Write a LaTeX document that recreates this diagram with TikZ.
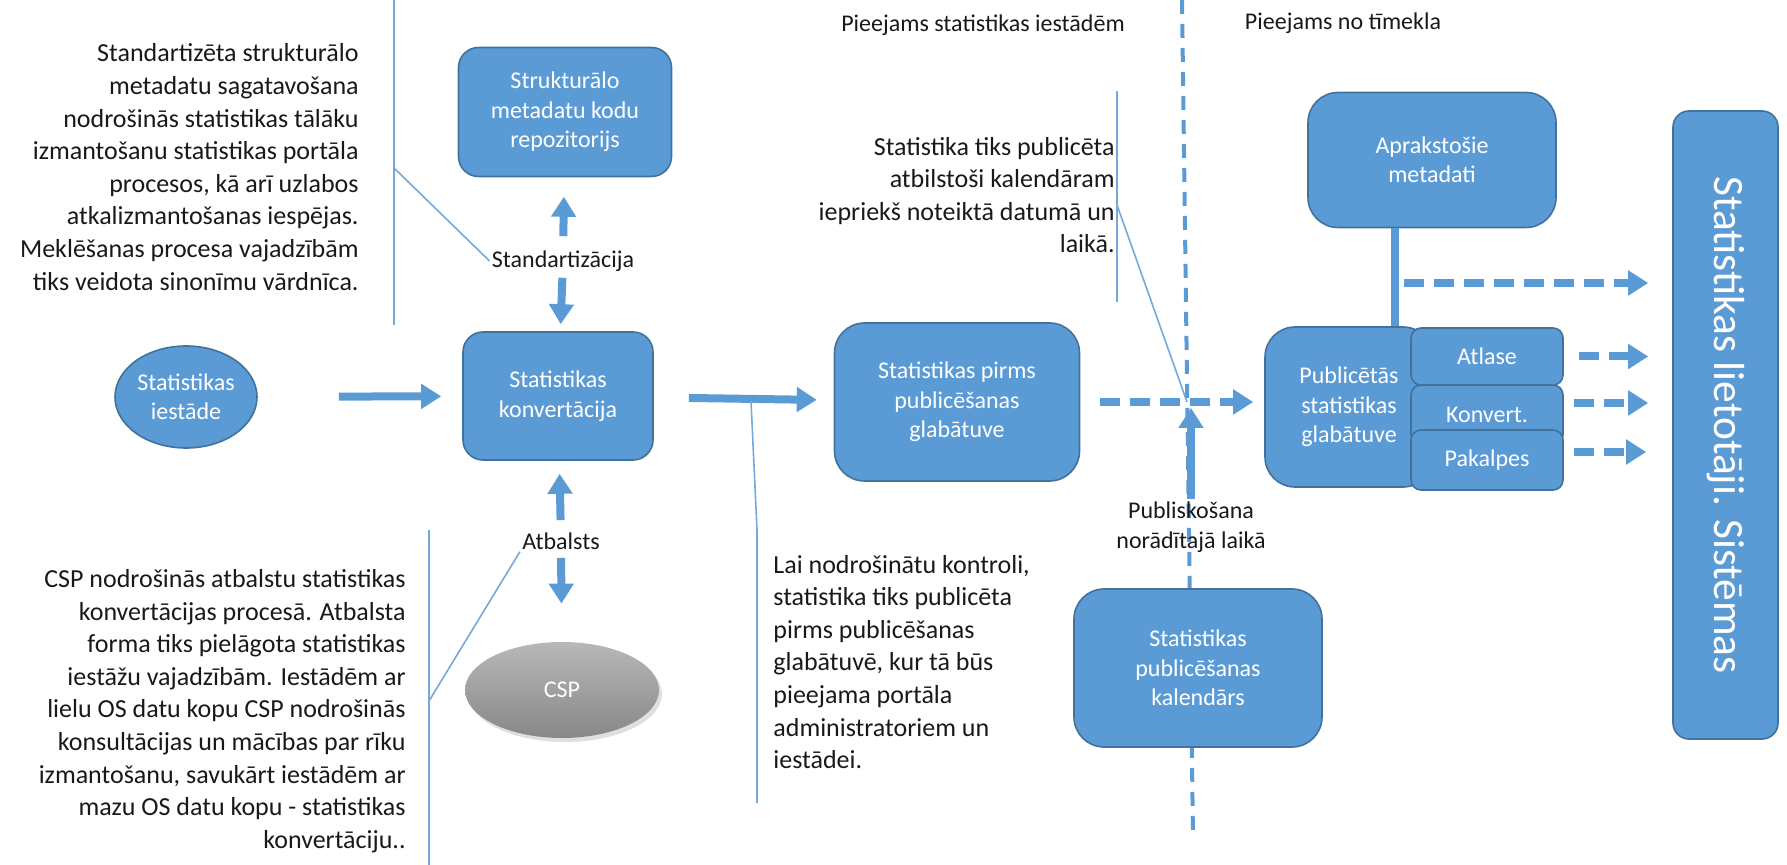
\documentclass[tikz,border=0pt]{standalone}
\usepackage{fontspec}
\setmainfont{Carlito}
\usetikzlibrary{arrows.meta,shapes.geometric,shadows}
\definecolor{boxblue}{HTML}{5B9BD5}
\definecolor{boxline}{HTML}{41719C}
\definecolor{csptop}{HTML}{B8B8B8}
\definecolor{cspbot}{HTML}{888888}

\begin{document}
\begin{tikzpicture}[x=0.5pt, y=-0.5pt,
    every node/.style={font=\fontsize{12}{14.75}\selectfont},
    box/.style={draw=boxline, fill=boxblue, rounded corners=10pt, text=white, align=center, line width=0.8pt},
    tab/.style={box, rounded corners=5pt, minimum width=76pt},
    note/.style={inner sep=0pt, text=black!90, font=\fontsize{13}{16.3}\selectfont},
    lbl/.style={inner sep=1pt, align=center, text=black!90},
    pointer/.style={draw=boxblue!85, line width=0.8pt},
    arr/.style={draw=boxblue, line width=4pt, -{Triangle[width=12pt,length=10pt]}},
    darr/.style={arr, dash pattern=on 10pt off 5pt},
    sep/.style={draw=boxblue, line width=2pt, dash pattern=on 7pt off 5pt}]
    \useasboundingbox (0,0) rectangle (1787,865);

    \coordinate (septop) at (1182,0);
    \coordinate (sepbot) at (1193,838);
    \draw[sep] (septop) -- (sepbot);
    \node[lbl] (intra) at (983,25) {Pieejams statistikas iestādēm};
    \node[lbl] (web) at (1343,23) {Pieejams no tīmekla};

    \node[box, ellipse, minimum width=71pt, minimum height=51pt, inner sep=0pt] (inst) at (186,397) {Statistikas\\iestāde};
    \node[box, minimum width=95pt, minimum height=64pt] (conv) at (558,396) {Statistikas\\konvertācija};
    \node[box, minimum width=106.5pt, minimum height=64.5pt] (repo) at (565,112) {Strukturālo\\metadatu kodu\\repozitorijs};
    \node[lbl] (std) at (563,261) {Standartizācija};
    \node[lbl] (atb) at (561,541) {Atbalsts};
    \node[ellipse, minimum width=97pt, minimum height=48pt, top color=csptop, bottom color=cspbot, text=white, drop shadow={opacity=0.25, shadow xshift=1.5pt, shadow yshift=-2pt}] (csp) at (562,690) {CSP};
    \node[box, minimum width=122.5pt, minimum height=79pt, rounded corners=15pt] (pre) at (957,402) {Statistikas pirms\\publicēšanas\\glabātuve};
    \node[box, minimum width=124pt, minimum height=79pt, rounded corners=15pt] (cal) at (1198,668) {Statistikas\\publicēšanas\\kalendārs};
    \node[lbl] (publ) at (1191,527) {Publiskošana\\norādītajā laikā};
    \node[box, minimum width=124pt, minimum height=67.5pt, rounded corners=15pt] (desc) at (1432,160) {Aprakstošie\\metadati};
    \node[box, minimum width=84pt, minimum height=80pt, rounded corners=15pt] (pub) at (1349,407) {Publicētās\\statistikas\\glabātuve};
    \node[tab, minimum height=28.5pt] (atl) at (1487,356.5) {Atlase};
    \node[tab, minimum height=30pt] (konv) at (1487,415) {Konvert.};
    \node[tab, minimum height=30pt] (pak) at (1487,460) {Pakalpes};
    \node[box, rotate=-90, minimum width=314pt, minimum height=52.5pt, rounded corners=8pt, font=\fontsize{21.7}{24}\selectfont] (users) at (1725.5,425) {Statistikas lietotāji. Sistēmas};

    \coordinate (cross) at (1187,402);
    \coordinate (tap) at (1395,283);
    \draw[arr, shorten <=40.5pt, shorten >=10.5pt] (inst) -- (conv);
    \draw[arr, shorten <=6pt, shorten >=9.75pt] (std) -- (repo);
    \draw[arr, shorten <=2pt, shorten >=3.5pt] (std) -- (conv);
    \draw[arr, shorten <=5pt, shorten >=6.5pt] (atb) -- (conv);
    \draw[arr, shorten <=3pt, shorten >=19pt] (atb) -- (csp);
    \draw[arr, shorten <=17.5pt, shorten >=8.5pt] (conv) -- (pre);
    \draw[darr, shorten <=10pt, shorten >=5.5pt] (pre) -- (pub.west |- pre);
    \draw[arr, shorten >=3pt] (publ.north) -- (publ.north |- cross);
    \draw[boxblue, line width=4pt] (desc.south -| tap) -- (pub.north -| tap);
    \draw[darr, shorten <=4.5pt, shorten >=12pt] (tap) -- (users.south |- tap);
    \draw[darr, shorten <=7.5pt, shorten >=12pt] (atl.east) -- (users.south |- atl.east);
    \draw[darr, shorten <=5pt, shorten >=12pt] (konv.east |- 0,403) -- (users.south |- 0,403);
    \draw[darr, shorten <=5pt, shorten >=13pt] (pak.east |- 0,452) -- (users.south |- 0,452);

    \node[note, anchor=east, align=right] (t1) at (359,167) {Standartizēta strukturālo\\metadatu sagatavošana\\nodrošinās statistikas tālāku\\izmantošanu statistikas portāla\\procesos, kā arī uzlabos\\atkalizmantošanas iespējas.\\Meklēšanas procesa vajadzībām\\tiks veidota sinonīmu vārdnīca.};
    \draw[pointer] (394,0) -- (394,325);
    \draw[pointer] (394,168) -- (std.west);

    \node[note, anchor=east, align=right] (t2) at (406,711) {CSP nodrošinās atbalstu statistikas\\konvertācijas procesā. Atbalsta\\forma tiks pielāgota statistikas\\iestāžu vajadzībām. Iestādēm ar\\lielu OS datu kopu CSP nodrošinās\\konsultācijas un mācības par rīku\\izmantošanu, savukārt iestādēm ar\\mazu OS datu kopu - statistikas\\konvertāciju..};
    \draw[pointer] (429,530) -- (429,865);
    \draw[pointer] (429,701) -- (atb.south west);

    \node[note, anchor=west, align=left] (t3) at (773,662) {Lai nodrošinātu kontroli,\\statistika tiks publicēta\\pirms publicēšanas\\glabātuvē, kur tā būs\\pieejama portāla\\administratoriem un\\iestādei.};
    \draw[pointer] (751,401) -- (757,530) -- (757,803);

    \node[note, anchor=east, align=right] (t4) at (1115,195) {Statistika tiks publicēta\\atbilstoši kalendāram\\iepriekš noteiktā datumā un\\laikā.};
    \draw[pointer] (1117,91) -- (1117,302);
    \draw[pointer] (1117,205) -- (cross);
\end{tikzpicture}
\end{document}
